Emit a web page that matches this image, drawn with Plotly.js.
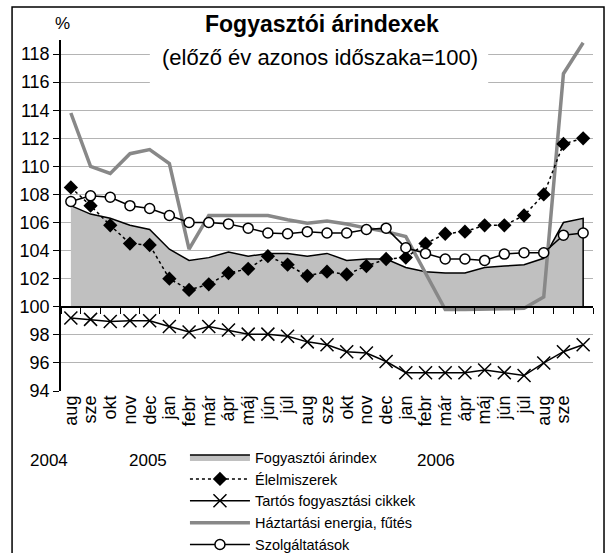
<!DOCTYPE html>
<html>
<head>
<meta charset="utf-8">
<script src="https://cdn.plot.ly/plotly-3.0.1.min.js"></script>
<style>
  body { margin: 0; background: #fff; }
  #chart { width: 610px; height: 553px; }
</style>
</head>
<body>
<div id="chart"></div>
<script>
// month labels on the axis (the last point, okt 2006, has no label)
const tickLabels = ['aug', 'sze', 'okt', 'nov', 'dec', 'jan', 'febr', 'már', 'ápr', 'máj', 'jún', 'júl',
    'aug', 'sze', 'okt', 'nov', 'dec', 'jan', 'febr', 'már', 'ápr', 'máj', 'jún', 'júl', 'aug', 'sze'];
const years = ['2004', '2005', '2006'];

// previous year same period = 100
const cpi = [107.2, 106.6, 106.3, 105.8, 105.5, 104.1, 103.3, 103.5, 103.9, 103.6, 103.8, 103.8, 103.6,
    103.8, 103.3, 103.4, 103.4, 102.8, 102.5, 102.4, 102.4, 102.8, 102.9, 103.0, 103.45, 106.0, 106.3];
const food = [108.5, 107.2, 105.8, 104.5, 104.4, 102.0, 101.2, 101.6, 102.4, 102.7, 103.6, 103.0, 102.2,
    102.5, 102.3, 102.9, 103.4, 103.5, 104.5, 105.2, 105.35, 105.8, 105.8, 106.5, 108.0, 111.6, 112.0];
const durable = [99.2, 99.1, 98.95, 99.0, 99.0, 98.6, 98.2, 98.6, 98.35, 98.05, 98.05, 97.9, 97.5,
    97.3, 96.8, 96.7, 96.1, 95.3, 95.3, 95.3, 95.3, 95.5, 95.3, 95.1, 96.0, 96.8, 97.3];
const energy = [113.8, 110.0, 109.5, 110.9, 111.2, 110.2, 104.1, 106.5, 106.5, 106.5, 106.5, 106.2, 105.95,
    106.1, 105.9, 105.6, 105.35, 105.0, 102.4, 99.8, 99.8, 99.8, 99.85, 99.9, 100.7, 116.6, 118.8];
const services = [107.5, 107.9, 107.8, 107.2, 107.0, 106.5, 106.0, 106.0, 105.9, 105.6, 105.25, 105.2, 105.35,
    105.25, 105.25, 105.5, 105.6, 104.2, 103.8, 103.4, 103.4, 103.3, 103.75, 103.85, 103.85, 105.1, 105.25];

const base = 100;
const yMin = 94, yMax = 119;
const idx = cpi.map((_, i) => i);
const last = idx.length - 1;
const font = 'Liberation Sans, Arial, sans-serif';

const plot_data = [{
    // area down to the 100 line
    x: idx.concat([last, 0]),
    y: cpi.concat([base, base]),
    mode: 'lines',
    fill: 'toself',
    fillcolor: '#c0c0c0',
    line: {color: '#000', width: 1.5},
    name: 'Fogyasztói árindex',
    legendrank: 1
}, {
    x: idx,
    y: energy,
    mode: 'lines',
    line: {color: '#888888', width: 3.5},
    name: 'Háztartási energia, fűtés',
    legendrank: 4
}, {
    x: idx,
    y: durable,
    xaxis: 'x2',
    mode: 'lines+markers',
    line: {color: '#000', width: 1.5},
    marker: {symbol: 'x-thin-open', size: 13, line: {color: '#000', width: 1.5}},
    name: 'Tartós fogyasztási cikkek',
    legendrank: 3
}, {
    x: idx,
    y: food,
    mode: 'lines+markers',
    line: {color: '#000', width: 1.5, dash: 'dot'},
    marker: {symbol: 'diamond', size: 11, color: '#000'},
    name: 'Élelmiszerek',
    legendrank: 2
}, {
    x: idx,
    y: services,
    mode: 'lines+markers',
    line: {color: '#000', width: 1.5},
    marker: {symbol: 'circle', size: 10, color: '#fff', line: {color: '#000', width: 1.5}},
    name: 'Szolgáltatások',
    legendrank: 5
}];

// text placed by paper position, always centred
function note(text, x, y, size) {
    return {
        text: text, xref: 'paper', yref: 'paper', x: x, y: y,
        xanchor: 'center', yanchor: 'middle', showarrow: false, font: {size: size}
    };
}

const layout = {
    width: 610,
    height: 553,
    margin: {l: 61, r: 17, t: 40, b: 162, autoexpand: false},
    paper_bgcolor: '#fff',
    plot_bgcolor: '#fff',
    font: {family: font, size: 17, color: '#000'},
    showlegend: true,
    legend: {
        x: 0.233, y: -0.143, xanchor: 'left', yanchor: 'top',
        font: {family: font, size: 14.5},
        itemwidth: 60,
        tracegroupgap: 0,
        bgcolor: 'rgba(0,0,0,0)'
    },
    xaxis: {
        range: [-0.5, last + 0.5],
        tickmode: 'array',
        tickvals: idx.slice(0, tickLabels.length),
        ticktext: tickLabels,
        tickangle: -90,
        tickfont: {size: 18},
        showgrid: false,
        zeroline: false,
        showline: false,
        ticks: ''
    },
    // category axis crossing at 100
    xaxis2: {
        overlaying: 'x',
        anchor: 'free',
        position: (base - yMin) / (yMax - yMin),
        range: [-0.5, last + 0.5],
        tick0: -0.5,
        dtick: 1,
        ticks: 'outside',
        ticklen: 6,
        tickcolor: '#000',
        showticklabels: false,
        showline: true,
        linecolor: '#000',
        linewidth: 1.5,
        showgrid: false,
        zeroline: false
    },
    yaxis: {
        range: [yMin, yMax],
        tick0: 94,
        dtick: 2,
        gridcolor: '#b4b4b4',
        showline: true,
        linecolor: '#000',
        linewidth: 1.5,
        ticks: 'outside',
        ticklen: 6,
        tickcolor: '#000',
        tickfont: {size: 18},
        zeroline: false
    },
    shapes: [{
        // outer frame
        type: 'rect', xref: 'paper', yref: 'paper',
        x0: -0.092, x1: 1.0207, y0: -0.49, y1: 1.094,
        line: {color: '#000', width: 1.5}
    }, {
        // white patch behind the subtitle, hides the top gridlines
        type: 'rect', xref: 'paper', yref: 'paper', layer: 'above',
        x0: 0.167, x1: 0.803, y0: 0.869, y1: 0.994,
        fillcolor: '#fff', line: {width: 0}
    }],
    annotations: [
        note('%', 0.002, 1.046, 17),
        note('<b>Fogyasztói árindexek</b>', 0.49, 1.046, 23),
        note('(előző év azonos időszaka=100)', 0.487, 0.949, 22),
        note(years[0], -0.023, -0.197, 17),
        note(years[1], 0.163, -0.197, 17),
        note(years[2], 0.705, -0.197, 17)
    ]
};

Plotly.newPlot('chart', plot_data, layout, {displayModeBar: false});
</script>
</body>
</html>
